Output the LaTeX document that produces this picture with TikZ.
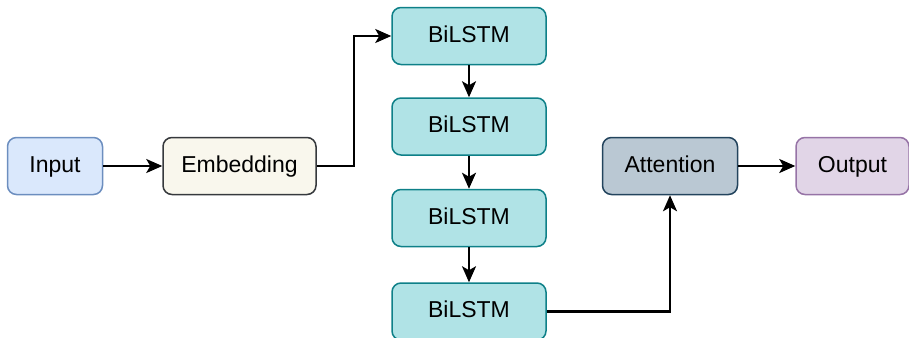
\documentclass[tikz,border=0pt]{standalone}
\usepackage{fontspec}
\setmainfont{Liberation Sans}
\usetikzlibrary{positioning,arrows.meta}

\definecolor{inpfill}{HTML}{DAE8FC}
\definecolor{inpline}{HTML}{6C8EBF}
\definecolor{embfill}{HTML}{F9F7ED}
\definecolor{embline}{HTML}{36393D}
\definecolor{lstmfill}{HTML}{B0E3E6}
\definecolor{lstmline}{HTML}{0E8088}
\definecolor{attfill}{HTML}{BAC8D3}
\definecolor{attline}{HTML}{23445D}
\definecolor{outfill}{HTML}{E1D5E7}
\definecolor{outline}{HTML}{9673A6}

\begin{document}
\begin{tikzpicture}[x=0.5pt,y=-0.5pt]
			\tikzstyle{box}=[rectangle, rounded corners=4.5pt, line width=0.75pt, minimum height=28.5pt, text height=8.4pt, text depth=2.4pt, font=\fontsize{11.5}{13}\selectfont]
			\tikzstyle{bi}=[box, fill=inpfill, draw=inpline]
			\tikzstyle{be}=[box, fill=embfill, draw=embline]
			\tikzstyle{bl}=[box, fill=lstmfill, draw=lstmline, minimum width=77pt]
			\tikzstyle{ba}=[box, fill=attfill, draw=attline]
			\tikzstyle{bo}=[box, fill=outfill, draw=outline]
			\tikzstyle{arr}=[-{Stealth[length=8pt,width=7pt,inset=2pt]}, line width=1.1pt]

			\useasboundingbox (0,0) rectangle (909,337);

			\node[bi, minimum width=47.5pt] (inp) at (55,166) {Input};
			\node[be, minimum width=76.5pt] (emb) [right=29.5pt of inp] {Embedding};
			\node[bl] (l1) at (469,36) {BiLSTM};
			\node[bl] (l2) [below=16pt of l1] {BiLSTM};
			\node[bl] (l3) [below=16.5pt of l2] {BiLSTM};
			\node[bl] (l4) [below=17.5pt of l3] {BiLSTM};
			\node[ba, minimum width=67.5pt] (att) at (670,166) {Attention};
			\node[bo, minimum width=56.5pt] (out) [right=28.5pt of att] {Output};

			\foreach \from/\to in {inp/emb,l1/l2,l2/l3,l3/l4,att/out}
			\draw [arr] (\from) -- (\to);
			\draw [arr] (emb.east) -- ++(18.5pt,0) |- (l1.west);
			\draw [arr] (l4.east) -| (att.south);
		\end{tikzpicture}
\end{document}
